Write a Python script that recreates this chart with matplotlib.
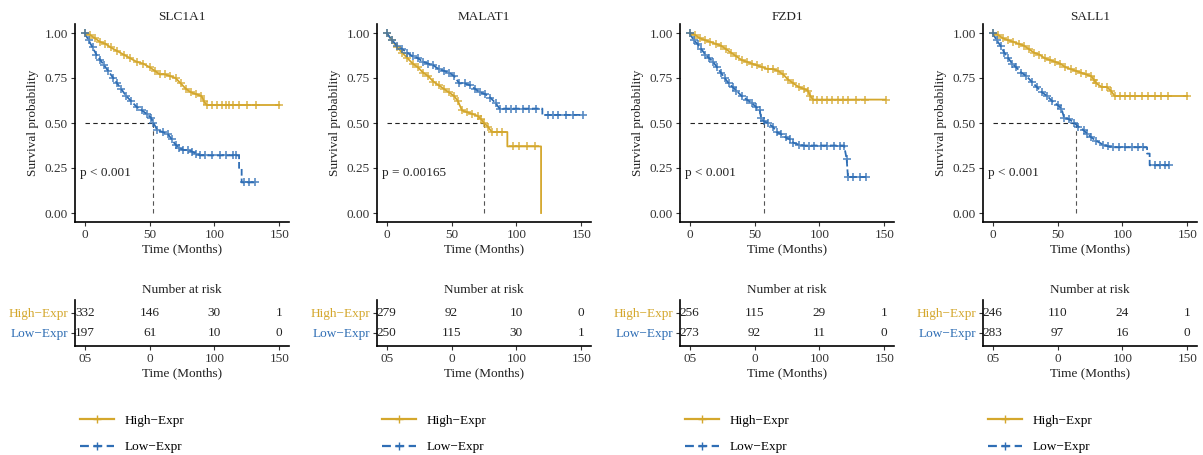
import numpy as np
import matplotlib
matplotlib.use("Agg")
import matplotlib.pyplot as plt
from matplotlib.lines import Line2D

plt.rcParams['font.family'] = ['Liberation Serif', 'DejaVu Serif']

GOLD = '#D4A72C'
BLUE = '#2F6EB5'

genes = ['SLC1A1', 'MALAT1', 'FZD1', 'SALL1']
pvals = ['p < 0.001', 'p = 0.00165', 'p < 0.001', 'p < 0.001']
medians = [53, 75, 57, 64]

# survival curves (months, probability); repeated time = vertical drop
high_t = [
    [0, 4, 8, 12, 16, 20, 25, 30, 35, 40, 45, 50, 54, 58, 62, 66, 70, 74, 78, 82, 86, 90, 92, 94,
     98, 102, 106, 109, 111, 114, 119, 125, 132, 150],
    [0, 4, 8, 12, 16, 20, 24, 28, 32, 36, 40, 44, 48, 52, 55, 58, 62, 66, 70, 73, 75, 78, 81, 85,
     89, 93, 93, 97, 102, 108, 114, 119, 119],
    [0, 4, 8, 12, 16, 20, 24, 28, 32, 36, 40, 44, 48, 52, 56, 60, 64, 68, 72, 76, 80, 84, 88, 91,
     93, 95, 98, 102, 106, 110, 114, 118, 122, 128, 135, 151],
    [0, 4, 8, 12, 16, 20, 24, 28, 32, 36, 40, 44, 48, 52, 56, 60, 64, 68, 72, 76, 78, 80, 84, 88,
     91, 94, 98, 102, 106, 110, 115, 120, 125, 130, 135, 150],
]
high_s = [
    [1.0, 0.99, 0.97, 0.95, 0.94, 0.92, 0.90, 0.88, 0.86, 0.84, 0.83, 0.81, 0.79, 0.77, 0.77, 0.76,
     0.75, 0.72, 0.69, 0.67, 0.66, 0.65, 0.62, 0.60, 0.60, 0.60, 0.60, 0.60, 0.60, 0.60, 0.60, 0.60,
     0.60, 0.60],
    [1.0, 0.96, 0.92, 0.89, 0.86, 0.83, 0.81, 0.78, 0.76, 0.73, 0.71, 0.69, 0.67, 0.65, 0.62, 0.57,
     0.56, 0.55, 0.54, 0.52, 0.50, 0.48, 0.45, 0.45, 0.45, 0.45, 0.37, 0.37, 0.37, 0.37, 0.37, 0.37,
     0.0],
    [1.0, 0.99, 0.97, 0.96, 0.95, 0.94, 0.93, 0.91, 0.89, 0.87, 0.85, 0.84, 0.83, 0.82, 0.81, 0.80,
     0.80, 0.79, 0.77, 0.74, 0.72, 0.70, 0.69, 0.68, 0.65, 0.63, 0.63, 0.63, 0.63, 0.63, 0.63, 0.63,
     0.63, 0.63, 0.63, 0.63],
    [1.0, 0.99, 0.97, 0.96, 0.95, 0.94, 0.93, 0.91, 0.89, 0.88, 0.86, 0.85, 0.84, 0.83, 0.81, 0.80,
     0.79, 0.78, 0.77, 0.76, 0.74, 0.72, 0.70, 0.70, 0.68, 0.65, 0.65, 0.65, 0.65, 0.65, 0.65, 0.65,
     0.65, 0.65, 0.65, 0.65],
]
low_t = [
    [0, 3, 6, 9, 12, 15, 18, 22, 25, 28, 32, 36, 40, 44, 48, 51, 53, 56, 60, 64, 67, 70, 73, 76,
     80, 83, 86, 89, 93, 98, 104, 109, 114, 117, 119, 119, 121, 121, 123, 127, 131],
    [0, 4, 8, 12, 16, 20, 24, 28, 32, 36, 40, 44, 48, 52, 56, 60, 64, 68, 72, 76, 80, 84, 87, 92,
     96, 100, 105, 110, 115, 120, 120, 124, 128, 132, 138, 144, 151],
    [0, 3, 6, 9, 12, 15, 18, 21, 24, 27, 30, 33, 36, 40, 44, 48, 51, 54, 55, 57, 60, 64, 67, 70,
     74, 77, 80, 84, 88, 92, 96, 101, 106, 111, 116, 119, 121, 122, 126, 131, 136],
    [0, 3, 6, 9, 12, 15, 18, 22, 26, 30, 34, 38, 42, 46, 50, 53, 55, 59, 63, 66, 70, 73, 76, 80,
     85, 89, 93, 97, 102, 107, 112, 116, 119, 119, 121, 121, 125, 129, 133, 136],
]
low_s = [
    [1.0, 0.96, 0.92, 0.88, 0.85, 0.82, 0.79, 0.75, 0.72, 0.69, 0.65, 0.62, 0.59, 0.57, 0.55, 0.53,
     0.50, 0.46, 0.45, 0.44, 0.41, 0.38, 0.36, 0.35, 0.35, 0.34, 0.33, 0.32, 0.32, 0.32, 0.32, 0.32,
     0.32, 0.32, 0.32, 0.25, 0.25, 0.17, 0.17, 0.17, 0.17],
    [1.0, 0.96, 0.93, 0.91, 0.89, 0.87, 0.86, 0.84, 0.83, 0.82, 0.80, 0.79, 0.78, 0.76, 0.72, 0.72,
     0.71, 0.69, 0.67, 0.66, 0.64, 0.61, 0.58, 0.58, 0.58, 0.58, 0.58, 0.58, 0.58, 0.58, 0.545,
     0.545, 0.545, 0.545, 0.545, 0.545, 0.545],
    [1.0, 0.96, 0.94, 0.91, 0.88, 0.86, 0.84, 0.81, 0.78, 0.75, 0.72, 0.70, 0.68, 0.65, 0.63, 0.61,
     0.59, 0.57, 0.53, 0.51, 0.50, 0.48, 0.45, 0.44, 0.42, 0.41, 0.39, 0.38, 0.375, 0.375, 0.375,
     0.375, 0.375, 0.375, 0.375, 0.375, 0.30, 0.20, 0.20, 0.20, 0.20],
    [1.0, 0.96, 0.93, 0.89, 0.86, 0.83, 0.81, 0.78, 0.76, 0.73, 0.70, 0.67, 0.65, 0.62, 0.60, 0.58,
     0.53, 0.52, 0.50, 0.48, 0.46, 0.44, 0.42, 0.40, 0.38, 0.37, 0.365, 0.365, 0.365, 0.365, 0.365,
     0.365, 0.365, 0.33, 0.33, 0.265, 0.265, 0.265, 0.265, 0.265],
]

risk_times = [0, 50, 100, 150]
risk_ticklabels = ['05', '0', '100', '150']
risk_high = [[332, 146, 30, 1], [279, 92, 10, 0], [256, 115, 29, 1], [246, 110, 24, 1]]
risk_low = [[197, 61, 10, 0], [250, 115, 30, 1], [273, 92, 11, 0], [283, 97, 16, 0]]

W, H = 1203, 455
fig = plt.figure(figsize=(W / 100, H / 100), dpi=100)


def px_axes(x0, y0, x1, y1):
    # pixel box (top-left origin) -> figure axes
    return fig.add_axes([x0 / W, 1 - y1 / H, (x1 - x0) / W, (y1 - y0) / H])


def censor_mask(t):
    t = np.asarray(t)
    m = np.ones(len(t), bool)
    same = t[1:] == t[:-1]
    m[1:][same] = False
    m[:-1][same] = False
    return m


left_px = [75, 377, 680, 983]
TXT = '#333333'

for i, g in enumerate(genes):
    x0 = left_px[i]
    ax = px_axes(x0, 24, x0 + 214, 222)
    for t, s, col, ls in [(high_t[i], high_s[i], GOLD, '-'), (low_t[i], low_s[i], BLUE, '--')]:
        t = np.array(t, float)
        s = np.array(s, float)
        ax.plot(t, s, color=col, lw=1.3, ls=ls, zorder=3)
        m = censor_mask(t)
        ax.plot(t[m], s[m], ls='none', marker='+', ms=6, mew=1.2, color=col, alpha=0.8, zorder=4)
    md = medians[i]
    ax.plot([0, md], [0.5, 0.5], color='#222222', ls=(0, (4, 3)), lw=0.8, zorder=2)
    ax.plot([md, md], [0, 0.5], color='#555555', ls=(0, (4, 3)), lw=0.8, zorder=2)
    ax.text(-4, 0.22, pvals[i], fontsize=9.5, color='#222222', va='center', ha='left')
    ax.set_xlim(-7.5, 157.5)
    ax.set_ylim(-0.05, 1.05)
    ax.set_xticks([0, 50, 100, 150])
    ax.set_yticks([0, 0.25, 0.5, 0.75, 1.0])
    ax.set_yticklabels(['0.00', '0.25', '0.50', '0.75', '1.00'])
    ax.set_title(g, fontsize=9.5, pad=3, color='#222222')
    ax.set_xlabel('Time (Months)', fontsize=9.5, color='#222222', labelpad=2)
    ax.set_ylabel('Survival probability', fontsize=9.5, color='#222222', labelpad=4)
    ax.tick_params(labelsize=9.5, colors=TXT, length=3, width=0.8, pad=2)
    for sp in ['top', 'right']:
        ax.spines[sp].set_visible(False)
    for sp in ['left', 'bottom']:
        ax.spines[sp].set_linewidth(1.2)

    # risk table
    rx = px_axes(x0, 300, x0 + 214, 346)
    for k, tt in enumerate(risk_times):
        rx.text(tt, 1, str(risk_high[i][k]), ha='center', va='center', fontsize=9.5, color='#222222')
        rx.text(tt, 0, str(risk_low[i][k]), ha='center', va='center', fontsize=9.5, color='#222222')
    rx.set_xlim(-7.5, 157.5)
    rx.set_ylim(-0.65, 1.65)
    rx.set_xticks(risk_times)
    rx.set_xticklabels(risk_ticklabels)
    rx.set_yticks([1, 0])
    rx.set_yticklabels(['High\u2212Expr', 'Low\u2212Expr'])
    rx.set_title('Number at risk', fontsize=9.5, pad=5, color='#222222')
    rx.set_xlabel('Time (Months)', fontsize=9.5, color='#222222', labelpad=2)
    rx.tick_params(labelsize=9.5, colors=TXT, length=3, width=0.8, pad=2)
    for lab, col in zip(rx.get_yticklabels(), [GOLD, BLUE]):
        lab.set_color(col)
    for sp in ['top', 'right']:
        rx.spines[sp].set_visible(False)
    for sp in ['left', 'bottom']:
        rx.spines[sp].set_linewidth(1.2)

    # legend
    handles = [Line2D([], [], color=GOLD, lw=1.6, ls='-', marker='+', ms=6, mew=1.0),
               Line2D([], [], color=BLUE, lw=1.6, ls=(0, (4, 2)), marker='+', ms=6, mew=1.0)]
    fig.legend(handles, ['High\u2212Expr', 'Low\u2212Expr'], loc='upper left',
               bbox_to_anchor=((x0 - 7) / W, 1 - 403 / H), frameon=False, fontsize=9.5,
               handlelength=2.6, labelspacing=1.05, handletextpad=0.8, markerfirst=True)

fig.savefig('out.png', dpi=100)
